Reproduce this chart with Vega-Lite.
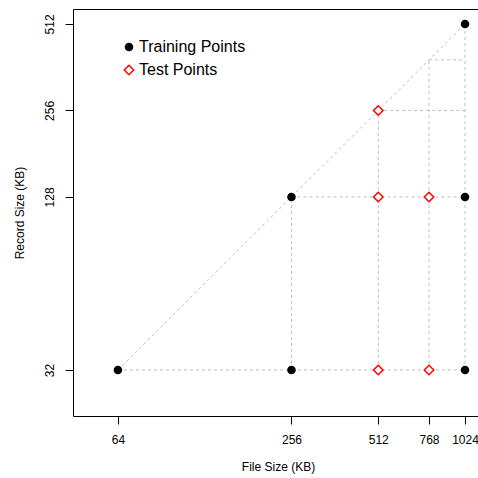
{
  "$schema": "https://vega.github.io/schema/vega-lite/v6.json",
  "width": 410,
  "height": 407,
  "autosize": {"type": "none"},
  "padding": {"left": 73, "top": 9, "right": 0, "bottom": 62},
  "background": "white",
  "config": {
    "font": "Liberation Sans",
    "view": {"stroke": "black", "strokeWidth": 1},
    "axis": {
      "grid": false,
      "domain": false,
      "tickColor": "black",
      "tickSize": 8,
      "labelFontSize": 12,
      "titleFontSize": 12,
      "titleFontWeight": "normal",
      "labelColor": "black",
      "titleColor": "black",
      "labelOverlap": false,
      "labelBound": false,
      "labelFlush": false
    },
    "legend": {
      "orient": "none",
      "legendX": 48,
      "legendY": 30,
      "labelFontSize": 16,
      "labelColor": "black",
      "padding": 0,
      "rowPadding": 7,
      "labelOffset": 2,
      "symbolStrokeWidth": 1.5
    }
  },
  "encoding": {
    "x": {
      "field": "x",
      "type": "quantitative",
      "scale": {"type": "log", "base": 2, "domain": [44.7, 1182], "nice": false},
      "axis": {
        "values": [64, 256, 512, 768, 1024],
        "format": "d",
        "title": "File Size (KB)",
        "labelPadding": 10,
        "titlePadding": 16
      }
    },
    "y": {
      "field": "y",
      "type": "quantitative",
      "scale": {"type": "log", "base": 2, "domain": [22.13, 577], "nice": false},
      "axis": {
        "values": [32, 128, 256, 512],
        "format": "d",
        "title": "Record Size (KB)",
        "labelAngle": -90,
        "labelAlign": "center",
        "labelBaseline": "bottom",
        "labelPadding": 9,
        "titlePadding": 17
      }
    }
  },
  "layer": [
    {
      "data": {
        "values": [
          {"x": 64, "y": 32, "x2": 1024, "y2": 512},
          {"x": 64, "y": 32, "x2": 1024, "y2": 32},
          {"x": 256, "y": 128, "x2": 1024, "y2": 128},
          {"x": 512, "y": 256, "x2": 1024, "y2": 256},
          {"x": 768, "y": 384, "x2": 1024, "y2": 384},
          {"x": 256, "y": 32, "x2": 256, "y2": 128},
          {"x": 512, "y": 32, "x2": 512, "y2": 256},
          {"x": 768, "y": 32, "x2": 768, "y2": 384},
          {"x": 1024, "y": 32, "x2": 1024, "y2": 512}
        ]
      },
      "mark": {"type": "rule", "color": "#bebebe", "strokeWidth": 1, "strokeDash": [3, 3]},
      "encoding": {
        "x2": {"field": "x2"},
        "y2": {"field": "y2"}
      }
    },
    {
      "data": {
        "values": [
          {"x": 64, "y": 32, "type": "Training Points"},
          {"x": 256, "y": 32, "type": "Training Points"},
          {"x": 256, "y": 128, "type": "Training Points"},
          {"x": 1024, "y": 32, "type": "Training Points"},
          {"x": 1024, "y": 128, "type": "Training Points"},
          {"x": 1024, "y": 512, "type": "Training Points"},
          {"x": 512, "y": 32, "type": "Test Points"},
          {"x": 768, "y": 32, "type": "Test Points"},
          {"x": 512, "y": 128, "type": "Test Points"},
          {"x": 768, "y": 128, "type": "Test Points"},
          {"x": 512, "y": 256, "type": "Test Points"}
        ]
      },
      "mark": {"type": "point", "strokeWidth": 1.5, "opacity": 1},
      "encoding": {
        "shape": {
          "field": "type", "type": "nominal", "title": null,
          "scale": {"domain": ["Training Points", "Test Points"], "range": ["circle", "diamond"]}
        },
        "fill": {
          "field": "type", "type": "nominal", "title": null,
          "scale": {"domain": ["Training Points", "Test Points"], "range": ["black", "white"]}
        },
        "stroke": {
          "field": "type", "type": "nominal", "title": null,
          "scale": {"domain": ["Training Points", "Test Points"], "range": ["black", "red"]}
        },
        "size": {
          "field": "type", "type": "nominal", "title": null,
          "scale": {"domain": ["Training Points", "Test Points"], "range": [50, 90]}
        }
      }
    }
  ]
}
